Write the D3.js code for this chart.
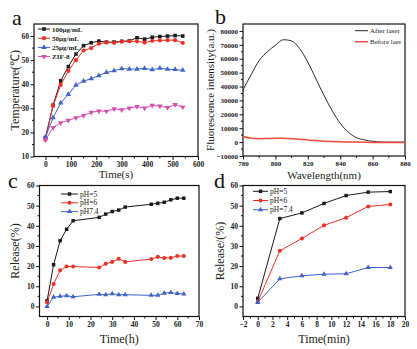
<!DOCTYPE html>
<html><head><meta charset="utf-8">
<script src="https://cdn.jsdelivr.net/npm/d3@7"></script>
<style>body{margin:0;background:#fff}svg{display:block}text{font-family:"Liberation Serif","Times New Roman",serif}</style>
</head><body><svg id="c" width="417" height="349"></svg>
<script>
// ---- Panel a data ----
const timeA = [0,30,60,90,120,150,180,210,240,270,300,330,360,390,420,450,480,510,540];
const a100 = [17.8,31.3,41.4,47.3,52.5,56,57.2,57.9,57.5,57.5,57.8,58,59.3,58.7,59.5,59.8,60,60.2,60];
const a50  = [17,31,39.7,45.5,50,54,55,56.8,57.3,57.2,57.7,57.8,57.8,57.3,58,58.2,58.3,58.3,57.2];
const a25  = [18.1,26.1,32.2,35.8,39.6,41.3,42.3,43.6,44.9,45.6,46.5,46.3,46.3,46.6,46,46.7,46.2,46.1,45.8];
const aZIF = [16.9,22,24,25,26,27,28.3,28.9,28.8,29.8,29.4,30.1,30.7,30.1,31.2,30.9,30.3,31.5,30.5];
const labelsA = ["100\u03bcg/mL","50\u03bcg/mL","25\u03bcg/mL","ZIF-8"];
const ticksAx = [0,100,200,300,400,500,600];
const ticksAy = [10,20,30,40,50,60];
// ---- Panel b data ----
const waveB = [780,785,790,795,800,805,810,815,820,825,830,835,840,845,850,855,860,865,870,875,880];
const afterB = [37600,48500,58800,65000,69700,73700,72800,67200,57600,45600,33600,22700,13600,7100,3200,1600,600,100,0,0,0];
const beforeB = [4000,2800,2500,2600,2700,2700,2500,2100,1500,1100,700,400,200,100,0,-100,-200,-200,-300,-300,-300];
const labelsB = ["After laser","Before laer"];
const ticksBx = [780,800,820,840,860,880];
const ticksBy = [-10000,0,10000,20000,30000,40000,50000,60000,70000,80000];
// ---- Panel c data ----
const timeC = [0,3,6,9,12,24,27,30,33,36,48,51,54,57,60,63];
const c5  = [2.8,20.7,32.6,38.3,42.5,44.2,45.8,47.1,47.8,49.3,50.7,51.2,51.7,52.9,53.7,53.7];
const c6  = [2,11.1,17.9,19.8,19.8,19.3,21.2,22.1,23.6,22.1,23.5,24.6,24,24.1,25,25];
const c74 = [0,4.6,5,5.3,4.8,6,5.8,6.3,5.8,5.8,5.5,5.5,6.6,6.9,6.4,6.2];
const labelsC = ["pH=5","pH=6","pH7.4"];
const ticksCx = [0,10,20,30,40,50,60,70];
const ticksCy = [0,10,20,30,40,50,60];
// ---- Panel d data ----
const timeD = [0,3,6,9,12,15,18];
const d5  = [4,43.6,46.4,51.1,55,56.7,57];
const d6  = [2.3,27.6,33.7,40.2,44,49.6,50.6];
const d74 = [2,13.7,15.2,16,16.2,19.3,19.3];
const labelsD = ["pH=5","pH=6","pH=7.4"];
const ticksDx = [-2,0,2,4,6,8,10,12,14,16,18,20];
const ticksDy = [0,10,20,30,40,50,60];

const BLACK="#1a1a1a", RED="#ee3124", BLUE="#3f63c9", PINK="#d94fb0";
const svg = d3.select("#c");

function symbol(g, type, x, y, color, s){
  const sym = {square:d3.symbolSquare, circle:d3.symbolCircle, up:d3.symbolTriangle}[type==="down"?"up":type];
  g.append("path").attr("d", d3.symbol().type(sym).size(s)())
   .attr("transform", `translate(${x},${y})` + (type==="down"?" rotate(180)":""))
   .attr("fill", color);
}

function panel(o){
  const x = d3.scaleLinear().domain(o.xd).range(o.xr);
  const y = d3.scaleLinear().domain(o.yd).range(o.yr);
  const g = svg.append("g");
  g.append("rect").attr("x",o.xr[0]).attr("y",o.yr[1]).attr("width",o.xr[1]-o.xr[0]).attr("height",o.yr[0]-o.yr[1])
   .attr("fill","none").attr("stroke","#111").attr("stroke-width",1.2);
  const ax = g.append("g").attr("transform",`translate(0,${o.yr[0]})`)
    .call(d3.axisBottom(x).tickValues(o.xt).tickSize(3.5).tickPadding(1.5).tickFormat(d3.format("d")));
  const ay = g.append("g").attr("transform",`translate(${o.xr[0]},0)`)
    .call(d3.axisLeft(y).tickValues(o.yt).tickSize(3.5).tickPadding(1.5).tickFormat(d3.format("d")));
  [ax,ay].forEach(a=>{a.select(".domain").remove();
    a.selectAll("line").attr("stroke","#111").attr("stroke-width",1);
    a.selectAll("text").attr("font-family","Liberation Serif").attr("font-size",o.tks||7.5).attr("font-weight","bold").attr("fill","#222");});
  const mx = o.xt.slice(0,-1).map((v,i)=>(v+o.xt[i+1])/2);
  const my = o.yt.slice(0,-1).map((v,i)=>(v+o.yt[i+1])/2);
  g.selectAll(null).data(mx).enter().append("line").attr("x1",d=>x(d)).attr("x2",d=>x(d))
   .attr("y1",o.yr[0]).attr("y2",o.yr[0]+2).attr("stroke","#111");
  g.selectAll(null).data(my).enter().append("line").attr("y1",d=>y(d)).attr("y2",d=>y(d))
   .attr("x1",o.xr[0]).attr("x2",o.xr[0]-2).attr("stroke","#111");
  g.append("text").attr("x",(o.xr[0]+o.xr[1])/2).attr("y",o.xtY).attr("text-anchor","middle")
   .attr("font-size",o.tfs||12).attr("fill","#222").text(o.xtitle);
  g.append("text").attr("transform",`translate(${o.ytX},${(o.yr[0]+o.yr[1])/2}) rotate(-90)`).attr("text-anchor","middle")
   .attr("font-size",o.ytfs||12).attr("fill","#222").text(o.ytitle);
  g.append("text").attr("x",o.lab[1]).attr("y",o.lab[2]).attr("font-size",22).attr("fill","#111").text(o.lab[0]);
  o.series.forEach(s=>{
    const pts = s.xs.map((d,i)=>[x(d), y(s.ys[i])]);
    const line = d3.line().curve(s.curve||d3.curveLinear);
    g.append("path").attr("d",line(pts)).attr("fill","none").attr("stroke",s.color).attr("stroke-width",s.w||1);
    if(s.sym) pts.forEach(p=>symbol(g,s.sym,p[0],p[1],s.color,s.size||14));
  });
  o.series.forEach((s,i)=>{
    const ly = o.leg.y + i*o.leg.dy;
    g.append("line").attr("x1",o.leg.x1).attr("x2",o.leg.x2).attr("y1",ly).attr("y2",ly).attr("stroke",s.color).attr("stroke-width",s.w||1);
    if(s.sym) symbol(g,s.sym,(o.leg.x1+o.leg.x2)/2,ly,s.color,s.size||14);
    g.append("text").attr("x",o.leg.tx).attr("y",ly+2.6).attr("font-size",o.leg.fs||7.5).attr("font-weight",o.leg.fw||"bold").attr("fill","#222").text(s.label);
  });
}

panel({xd:[-45,600], xr:[34,198], yd:[10,65], yr:[156.5,24], xt:ticksAx, yt:ticksAy,
  xtitle:"Time(s)", xtY:178, tfs:11, ytitle:"Temperature(\u2103)", ytX:19, lab:["a",12,25],
  series:[
    {xs:timeA, ys:a100, color:BLACK, sym:"square", label:labelsA[0], size:13},
    {xs:timeA, ys:a50, color:RED, sym:"circle", label:labelsA[1], size:14},
    {xs:timeA, ys:a25, color:BLUE, sym:"up", label:labelsA[2], size:13},
    {xs:timeA, ys:aZIF, color:PINK, sym:"down", label:labelsA[3], size:13}],
  leg:{x1:38, x2:50, tx:52, y:29, dy:9.2, fs:7}});

panel({xd:[780,880], xr:[243,405], yd:[-10000,85000], yr:[156,24], xt:ticksBx, yt:ticksBy, tks:7,
  xtitle:"Wavelength(nm)", xtY:178.5, tfs:11, ytitle:"Fluorescence intensity(a.u.)", ytfs:11, ytX:214, lab:["b",215,24],
  series:[
    {xs:waveB, ys:afterB, color:"#2a2a2a", label:labelsB[0], curve:d3.curveMonotoneX, w:1},
    {xs:waveB, ys:beforeB, color:"#f04a3a", label:labelsB[1], curve:d3.curveMonotoneX, w:1.5}],
  leg:{x1:355, x2:368, tx:370, y:30.7, dy:11, fw:"normal", fs:7}});

panel({xd:[-3.5,70], xr:[39.5,199], yd:[-5,60], yr:[316.5,185.5], xt:ticksCx, yt:ticksCy,
  xtitle:"Time(h)", xtY:343, ytitle:"Release(%)", ytX:19, lab:["c",8,188],
  series:[
    {xs:timeC, ys:c5, color:BLACK, sym:"square", label:labelsC[0], size:12},
    {xs:timeC, ys:c6, color:RED, sym:"circle", label:labelsC[1], size:13},
    {xs:timeC, ys:c74, color:BLUE, sym:"up", label:labelsC[2], size:12}],
  leg:{x1:61, x2:78, tx:80, y:194, dy:8.8, fw:"normal"}});

panel({xd:[-2,20], xr:[243,405], yd:[-5,60], yr:[316.5,185.5], xt:ticksDx, yt:ticksDy,
  xtitle:"Time(min)", xtY:343, ytitle:"Release/(%)", ytX:224, lab:["d",214,188],
  series:[
    {xs:timeD, ys:d5, color:BLACK, sym:"square", label:labelsD[0], size:12},
    {xs:timeD, ys:d6, color:RED, sym:"circle", label:labelsD[1], size:13},
    {xs:timeD, ys:d74, color:BLUE, sym:"up", label:labelsD[2], size:12}],
  leg:{x1:253, x2:268, tx:270, y:191.3, dy:9.2, fw:"normal"}});
</script></body></html>
